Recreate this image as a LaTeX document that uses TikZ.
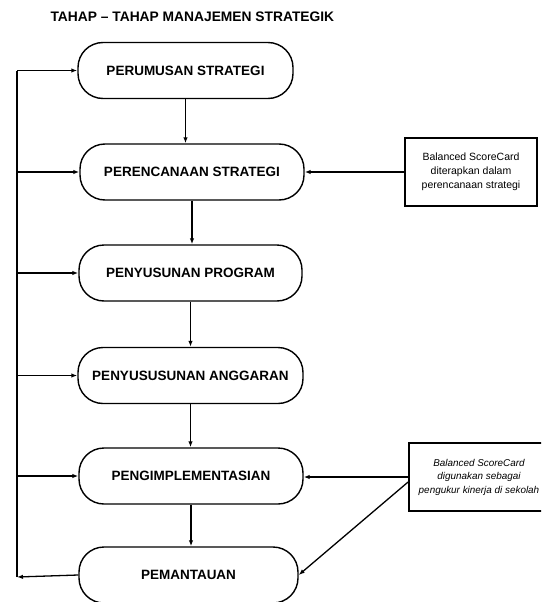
\documentclass[tikz,border=0pt]{standalone}
\usepackage{fontspec}
\setmainfont{Liberation Sans}
\usetikzlibrary{arrows.meta}
\tikzset{
  stage/.style={draw, line width=1.4pt, rounded corners=25pt, minimum height=56pt,
    inner sep=0pt, font=\fontsize{13.5}{15}\selectfont\bfseries},
  note/.style={draw, line width=1.8pt, inner sep=0pt, align=center,
    font=\fontsize{10.5}{14}\selectfont},
  flow/.style={line width=1.3pt, -{Latex[length=6pt,width=4.5pt]}},
  plain/.style={line width=1.3pt}
}
\begin{document}
\begin{tikzpicture}[x=1pt,y=-1pt]
\clip (0,0) rectangle (541,602);
\fill[white] (0,0) rectangle (541,602);

% heading
\node[anchor=west, font=\fontsize{13.8}{15}\selectfont\bfseries] (title) at (47,16.5)
  {TAHAP – TAHAP MANAJEMEN STRATEGIK};

% stages of the process
\node[stage, minimum width=215pt] (s1) at (185.5,70.5) {PERUMUSAN STRATEGI};
\node[stage, minimum width=224pt] (s2) at (192,172) {PERENCANAAN STRATEGI};
\node[stage, minimum width=223pt] (s3) at (190.5,273) {PENYUSUNAN PROGRAM};
\node[stage, minimum width=225pt] (s4) at (190.5,375.5) {PENYUSUSUNAN ANGGARAN};
\node[stage, minimum width=224pt] (s5) at (191,476) {PENGIMPLEMENTASIAN};
\node[stage, minimum width=219pt] (s6) at (188.5,575) {PEMANTAUAN};

% Balanced ScoreCard notes
\node[note, minimum width=132pt, minimum height=68pt] (n1) at (471,172)
  {Balanced ScoreCard\\diterapkan dalam\\perencanaan strategi};
\node[note, minimum width=140pt, minimum height=68pt, font=\fontsize{9.9}{13.5}\selectfont\itshape]
  (n2) at (479,477) {Balanced ScoreCard\\digunakan sebagai\\pengukur kinerja di sekolah};

% main sequence
\draw[flow] (s1.south) -- (s1.south |- s2.north);
\draw[flow] (s2.south) -- (s2.south |- s3.north);
\draw[flow] (s3.south) -- (s3.south |- s4.north);
\draw[flow] (s4.south) -- (s4.south |- s5.north);
\draw[flow] (s5.south) -- (s5.south |- s6.north);

% feedback loop on the left
\coordinate (lb) at (17,577);
\coordinate (lt) at (17,70.5);
\draw[flow] (s6.west) -- (lb);
\draw[plain] (lb) -- (lt);
\draw[flow] (lt) -- (s1.west);
\draw[flow] (lt |- s2.west) -- (s2.west);
\draw[flow] (lt |- s3.west) -- (s3.west);
\draw[flow] (lt |- s4.west) -- (s4.west);
\draw[flow] (lt |- s5.west) -- (s5.west);

% links from the notes
\draw[flow] (n1.west) -- (s2.east);
\draw[flow] (n2.west) -- (n2.west -| s5.east);
\draw[flow] ([yshift=-5pt]n2.west) -- (s6.east);
\end{tikzpicture}
\end{document}
